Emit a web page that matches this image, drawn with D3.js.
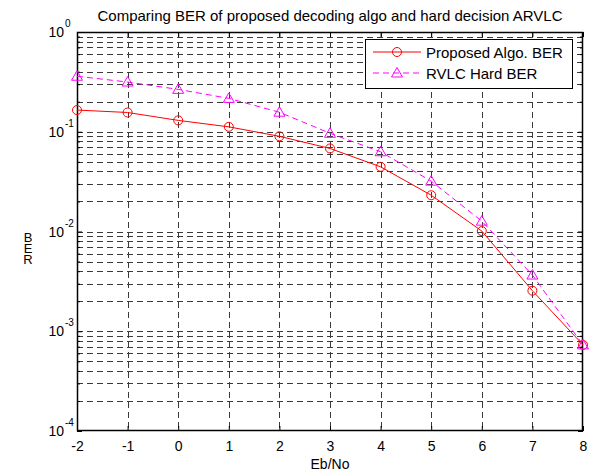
<!DOCTYPE html>
<html>
<head>
<meta charset="utf-8">
<script src="https://cdn.jsdelivr.net/npm/d3@7"></script>
<style>
	body { margin: 0; background: #fff; }
	text { font-family: "Liberation Sans", Arial, sans-serif; fill: #000; }
</style>
</head>
<body>
<svg id="vis"></svg>
<script>
// Data
var ebNo = [-2, -1, 0, 1, 2, 3, 4, 5, 6, 7, 8];
var proposedBER = [0.165, 0.156, 0.130, 0.112, 0.090, 0.068, 0.0445, 0.0231, 0.0101, 0.00255, 0.00073];
var hardBER = [0.36, 0.315, 0.266, 0.216, 0.157, 0.0965, 0.063, 0.032, 0.0127, 0.00366, 0.00073];
var xTicks = [-2, -1, 0, 1, 2, 3, 4, 5, 6, 7, 8];
var yExponents = [0, -1, -2, -3, -4];
var seriesNames = ["Proposed Algo. BER", "RVLC Hard BER"];

var W = 594, H = 474;
var plot = {left: 77, top: 32, right: 583, bottom: 431};

var svg = d3.select("svg#vis")
	.attr("width", W)
	.attr("height", H);

svg.append("rect")
	.attr("width", W)
	.attr("height", H)
	.attr("fill", "#fff");

var xScale = d3.scaleLinear()
	.domain([-2, 8])
	.range([plot.left, plot.right]);

var yScale = d3.scaleLog()
	.domain([1e-4, 1])
	.range([plot.bottom, plot.top]);

// all log ticks, 1..9 in every decade
var yAll = yScale.ticks();
var yMinor = yAll.filter(function(v) {
	var e = Math.log10(v);
	return Math.abs(e - Math.round(e)) > 1e-9;
});
var yMajor = yExponents.map(function(e) { return Math.pow(10, e); });

// Grid
var grid = svg.append("g").attr("class", "grid")
	.attr("stroke", "#3a3a3a")
	.attr("stroke-width", 1)
	.attr("stroke-dasharray", "6,4")
	.attr("shape-rendering", "crispEdges");

grid.selectAll("line.h").data(yAll.filter(function(v) { return v > 1e-4 && v < 1; }))
	.enter().append("line")
	.attr("class", "h")
	.attr("x1", plot.left).attr("x2", plot.right)
	.attr("y1", function(d) { return Math.round(yScale(d)) + 0.5; })
	.attr("y2", function(d) { return Math.round(yScale(d)) + 0.5; });

grid.selectAll("line.v").data(xTicks.slice(1, -1))
	.enter().append("line")
	.attr("class", "v")
	.attr("y1", plot.top).attr("y2", plot.bottom)
	.attr("x1", function(d) { return Math.round(xScale(d)) + 0.5; })
	.attr("x2", function(d) { return Math.round(xScale(d)) + 0.5; });

// Axes (ticks pointing inward, MATLAB style)
var fontSize = 14;

svg.append("g")
	.attr("transform", "translate(0," + plot.bottom + ")")
	.call(d3.axisBottom(xScale).tickValues(xTicks).tickSizeInner(-5).tickSizeOuter(0).tickPadding(10)
		.tickFormat(function(d) { return String(d); }))
	.call(function(g) {
		g.select(".domain").remove();
		g.selectAll("line").attr("stroke", "#000");
		g.selectAll("text").attr("font-size", fontSize).attr("font-family", "Liberation Sans, Arial, sans-serif");
	});

svg.append("g")
	.attr("transform", "translate(0," + plot.top + ")")
	.call(d3.axisTop(xScale).tickValues(xTicks).tickSizeInner(-5).tickSizeOuter(0).tickFormat(""))
	.call(function(g) { g.select(".domain").remove(); g.selectAll("line").attr("stroke", "#000"); });

function yTicksOn(side) {
	var axis = side === "left" ? d3.axisLeft(yScale) : d3.axisRight(yScale);
	var pos = side === "left" ? plot.left : plot.right;
	svg.append("g")
		.attr("transform", "translate(" + pos + ",0)")
		.call(axis.tickValues(yMajor).tickSizeInner(-5).tickSizeOuter(0).tickFormat(""))
		.call(function(g) { g.select(".domain").remove(); g.selectAll("line").attr("stroke", "#000"); });
	svg.append("g")
		.attr("transform", "translate(" + pos + ",0)")
		.call(axis.tickValues(yMinor).tickSizeInner(-3).tickSizeOuter(0).tickFormat(""))
		.call(function(g) { g.select(".domain").remove(); g.selectAll("line").attr("stroke", "#000"); });
}
yTicksOn("left");
yTicksOn("right");

// y tick labels 10^n
var yLabels = svg.append("g").selectAll("g.ylab").data(yExponents)
	.enter().append("g")
	.attr("class", "ylab")
	.attr("transform", function(d) { return "translate(64," + yScale(Math.pow(10, d)) + ")"; });

yLabels.append("text")
	.attr("text-anchor", "end")
	.attr("y", 5)
	.attr("font-size", fontSize)
	.text("10");

yLabels.append("text")
	.attr("x", 1)
	.attr("y", -5)
	.attr("font-size", 10)
	.text(function(d) { return d; });

// Box
svg.append("rect")
	.attr("x", plot.left + 0.5).attr("y", plot.top + 0.5)
	.attr("width", plot.right - plot.left - 1)
	.attr("height", plot.bottom - plot.top - 1)
	.attr("fill", "none")
	.attr("stroke", "#000")
	.attr("stroke-width", 1.5);

// Series
var lineGen = d3.line()
	.x(function(d) { return xScale(d[0]); })
	.y(function(d) { return yScale(d[1]); });

var proposed = ebNo.map(function(x, i) { return [x, proposedBER[i]]; });
var hard = ebNo.map(function(x, i) { return [x, hardBER[i]]; });

var triangle = "M0,-5.5L5.5,4L-5.5,4Z";

svg.append("path")
	.datum(hard)
	.attr("d", lineGen)
	.attr("fill", "none")
	.attr("stroke", "#ff00ff")
	.attr("stroke-width", 1)
	.attr("stroke-dasharray", "6,4");

svg.append("path")
	.datum(proposed)
	.attr("d", lineGen)
	.attr("fill", "none")
	.attr("stroke", "#ff0000")
	.attr("stroke-width", 1);

svg.append("g").selectAll("circle").data(proposed)
	.enter().append("circle")
	.attr("cx", function(d) { return xScale(d[0]); })
	.attr("cy", function(d) { return yScale(d[1]); })
	.attr("r", 4.5)
	.attr("fill", "none")
	.attr("stroke", "#ff0000")
	.attr("stroke-width", 1);

svg.append("g").selectAll("path").data(hard)
	.enter().append("path")
	.attr("d", triangle)
	.attr("transform", function(d) { return "translate(" + xScale(d[0]) + "," + yScale(d[1]) + ")"; })
	.attr("fill", "none")
	.attr("stroke", "#ff00ff")
	.attr("stroke-width", 1);

// Title and axis labels
svg.append("text")
	.attr("x", (plot.left + plot.right) / 2)
	.attr("y", 21)
	.attr("text-anchor", "middle")
	.attr("font-size", 15)
	.text("Comparing BER of proposed decoding algo and hard decision ARVLC");

svg.append("text")
	.attr("x", (plot.left + plot.right) / 2)
	.attr("y", 469)
	.attr("text-anchor", "middle")
	.attr("font-size", fontSize)
	.text("Eb/No");

// y label, letters stacked upright as in the reference
svg.append("text")
	.attr("x", 28)
	.attr("y", 230)
	.attr("font-size", 13)
	.style("writing-mode", "vertical-rl")
	.style("text-orientation", "upright")
	.style("letter-spacing", "-4px")
	.text("BER");

// Legend
var legendFont = 15;
var legend = svg.append("g").attr("class", "legend");
legend.append("rect")
	.attr("x", 365.5).attr("y", 39.5)
	.attr("width", 207).attr("height", 49)
	.attr("fill", "#fff")
	.attr("stroke", "#000")
	.attr("stroke-width", 1);

var rows = legend.selectAll("g.row").data(seriesNames)
	.enter().append("g")
	.attr("class", "row")
	.attr("transform", function(d, i) { return "translate(0," + (52 + i * 21) + ")"; });

rows.append("line")
	.attr("x1", 373).attr("x2", 421)
	.attr("stroke", function(d, i) { return i === 0 ? "#ff0000" : "#ff00ff"; })
	.attr("stroke-dasharray", function(d, i) { return i === 0 ? null : "6,4"; });

rows.filter(function(d, i) { return i === 0; }).append("circle")
	.attr("cx", 397).attr("r", 4.5)
	.attr("fill", "none").attr("stroke", "#ff0000");

rows.filter(function(d, i) { return i === 1; }).append("path")
	.attr("d", triangle)
	.attr("transform", "translate(397,0)")
	.attr("fill", "none").attr("stroke", "#ff00ff");

rows.append("text")
	.attr("x", 426)
	.attr("y", 5.5)
	.attr("font-size", legendFont)
	.text(function(d) { return d; });
</script>
</body>
</html>
